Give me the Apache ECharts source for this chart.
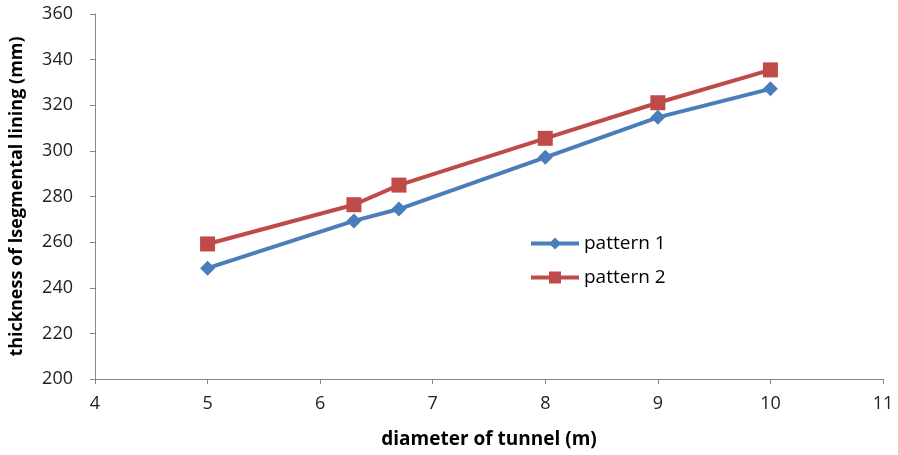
<!DOCTYPE html>
<html>
<head>
<meta charset="utf-8">
<script src="https://cdn.jsdelivr.net/npm/echarts@6/dist/echarts.min.js"></script>
<style>
  html, body { margin: 0; padding: 0; background: #fff; }
  #chart { width: 898px; height: 455px; }
</style>
</head>
<body>
<div id="chart"></div>
<script>
// diameter of tunnel (m)
const diameters = [5, 6.3, 6.7, 8, 9, 10]
// thickness of segmental lining (mm)
const pattern1 = [248.6, 269.3, 274.5, 297.2, 314.7, 327.2]
const pattern2 = [259.2, 276.4, 285.0, 305.5, 321.1, 335.5]

const font = '"Open Sans", "Liberation Sans", sans-serif'
const chart = echarts.init(document.getElementById('chart'))

const toPairs = (ys) => diameters.map((x, i) => [x, ys[i]])

chart.setOption({
  animation: false,
  textStyle: { fontFamily: font },
  grid: { left: 95, right: 15, top: 14, bottom: 76, containLabel: false, outerBoundsMode: 'none' },
  legend: {
    orient: 'vertical',
    left: 524,
    top: 229,
    itemWidth: 48,
    itemHeight: 15,
    itemGap: 15,
    lineStyle: { width: 4 },
    textStyle: { fontSize: 19, color: '#000', fontFamily: font },
    data: ['pattern 1', 'pattern 2'],
  },
  xAxis: {
    type: 'value',
    min: 4,
    max: 11,
    interval: 1,
    name: 'diameter of tunnel (m)',
    nameLocation: 'middle',
    nameGap: 51,
    nameTextStyle: { fontSize: 19, fontWeight: 'bold', color: '#000', fontFamily: font },
    axisLine: { show: true, lineStyle: { color: '#868686', width: 1 } },
    axisTick: { show: true, length: 5, lineStyle: { color: '#868686' } },
    axisLabel: { fontSize: 18, color: '#222', margin: 16 },
    splitLine: { show: false },
  },
  yAxis: {
    type: 'value',
    min: 200,
    max: 360,
    interval: 20,
    name: 'thickness of lsegmental lining (mm)',
    nameLocation: 'middle',
    nameGap: 69,
    nameTextStyle: { fontSize: 18, fontWeight: 'bold', color: '#000', fontFamily: font },
    axisLine: { show: true, lineStyle: { color: '#868686', width: 1 } },
    axisTick: { show: true, length: 5, lineStyle: { color: '#868686' } },
    axisLabel: { fontSize: 18, color: '#222', margin: 22 },
    splitLine: { show: false },
  },
  series: [
    {
      name: 'pattern 1',
      type: 'line',
      data: toPairs(pattern1),
      symbol: 'diamond',
      symbolSize: 15,
      itemStyle: { color: '#4a7ebb' },
      lineStyle: { color: '#4a7ebb', width: 4 },
    },
    {
      name: 'pattern 2',
      type: 'line',
      data: toPairs(pattern2),
      symbol: 'rect',
      symbolSize: 15,
      itemStyle: { color: '#be4b48' },
      lineStyle: { color: '#be4b48', width: 4 },
    },
  ],
})
</script>
</body>
</html>
